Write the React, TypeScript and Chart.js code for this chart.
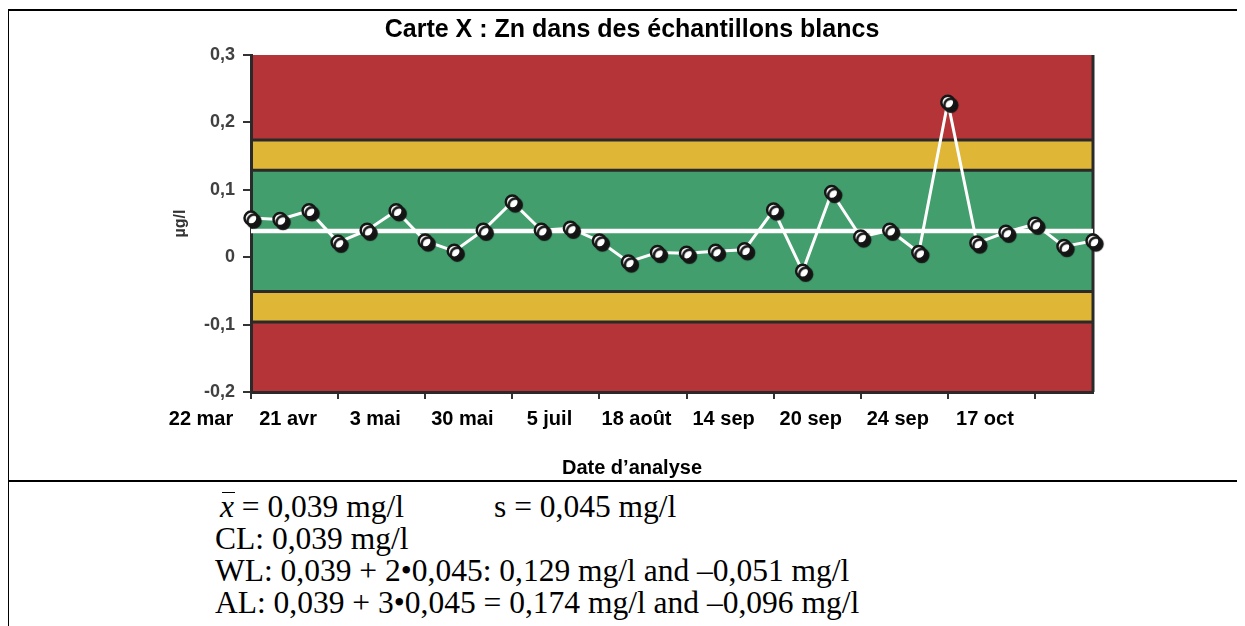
import React, { useEffect, useRef } from 'react';
import { Chart, registerables } from 'chart.js';

Chart.register(...registerables);

// ---------- data ----------
const TITLE = 'Carte X : Zn dans des échantillons blancs';
const X_TITLE = 'Date d’analyse';
const Y_TITLE = 'µg/l';

const dateLabels = ['22 mar', '21 avr', '3 mai', '30 mai', '5 juil', '18 août', '14 sep', '20 sep', '24 sep', '17 oct'];
const labelEvery = 3; // one date label every 3 analyses

const znValues = [
  0.058, 0.056, 0.069, 0.022, 0.040, 0.069, 0.024, 0.009, 0.040, 0.082,
  0.040, 0.043, 0.024, -0.007, 0.007, 0.006, 0.009, 0.011, 0.070, -0.021,
  0.096, 0.030, 0.040, 0.007, 0.230, 0.021, 0.037, 0.049, 0.016, 0.024,
];

const CL = 0.039;
const WL = [0.129, -0.051];
const AL = [0.174, -0.096];

const yMin = -0.2;
const yMax = 0.3;
const yStep = 0.1;

// ---------- style ----------
const SANS = '"Liberation Sans", Arial, sans-serif';
const SERIF = '"Liberation Serif", "Times New Roman", serif';
const RED = '#b43437';
const YELLOW = '#dfb636';
const GREEN = '#429e6d';
const DARK = '#2a2a2a';

const bandsPlugin = {
  id: 'controlBands',
  beforeDraw(chart: any) {
    const { ctx, chartArea: a, scales } = chart;
    const y = scales.y;
    const py = (v: number) => y.getPixelForValue(v);
    const band = (from: number, to: number, color: string) => {
      const t = py(to);
      const b = py(from);
      ctx.fillStyle = color;
      ctx.fillRect(a.left, t, a.right - a.left, b - t);
    };
    ctx.save();
    band(AL[0], yMax, RED);
    band(WL[0], AL[0], YELLOW);
    band(WL[1], WL[0], GREEN);
    band(AL[1], WL[1], YELLOW);
    band(yMin, AL[1], RED);
    ctx.strokeStyle = DARK;
    ctx.lineWidth = 3;
    [AL[0], WL[0], WL[1], AL[1]].forEach((v) => {
      const p = py(v);
      ctx.beginPath();
      ctx.moveTo(a.left, p);
      ctx.lineTo(a.right, p);
      ctx.stroke();
    });
    ctx.beginPath();
    ctx.moveTo(a.right, a.top);
    ctx.lineTo(a.right, a.bottom);
    ctx.stroke();
    ctx.restore();
  },
};

const shadowPlugin = {
  id: 'markerShadow',
  beforeDatasetDraw(chart: any, args: any) {
    if (args.index !== 0) return;
    const ctx = chart.ctx;
    ctx.save();
    ctx.shadowColor = '#141414';
    ctx.shadowOffsetX = 3;
    ctx.shadowOffsetY = 3;
    ctx.shadowBlur = 1;
  },
  afterDatasetDraw(chart: any, args: any) {
    if (args.index !== 0) return;
    chart.ctx.restore();
  },
};

const fmtY = (v: any) => {
  const n = Math.round(Number(v) * 10) / 10;
  if (n === 0) return '0';
  return n.toFixed(1).replace('.', ',');
};

function ControlChart() {
  const ref = useRef<HTMLCanvasElement | null>(null);

  useEffect(() => {
    if (!ref.current) return;
    const pts = znValues.map((v, i) => ({ x: i, y: v }));
    const chart = new Chart(ref.current, {
      type: 'line',
      data: {
        datasets: [
          {
            label: 'points',
            data: pts,
            showLine: false,
            pointRadius: 6.5,
            pointBackgroundColor: '#ffffff',
            pointBorderColor: '#161616',
            pointBorderWidth: 2.5,
            clip: false,
          } as any,
          {
            label: 'ligne',
            data: pts,
            borderColor: '#ffffff',
            borderWidth: 3,
            pointRadius: 0,
            fill: false,
          },
          {
            label: 'CL',
            data: [{ x: 0, y: CL }, { x: znValues.length - 1, y: CL }],
            borderColor: '#ffffff',
            borderWidth: 4.5,
            pointRadius: 0,
            fill: false,
          },
        ],
      },
      options: {
        animation: false,
        responsive: false,
        devicePixelRatio: 1,
        events: [],
        layout: { padding: { left: 162, right: 152, top: 0, bottom: 0 } },
        plugins: {
          legend: { display: false },
          tooltip: { enabled: false },
          title: {
            display: true,
            text: TITLE,
            color: '#000',
            font: { family: SANS, size: 25, weight: 'bold' },
            padding: { top: 4, bottom: 10 },
          },
          subtitle: {
            display: true,
            position: 'bottom',
            text: X_TITLE,
            color: '#000',
            font: { family: SANS, size: 20, weight: 'bold' },
            padding: { top: 0, bottom: 0 },
          },
        },
        scales: {
          x: {
            type: 'linear',
            min: 0,
            max: znValues.length - 1,
            afterBuildTicks: (s: any) => {
              s.ticks = dateLabels.map((_, i) => ({ value: i * labelEvery }));
            },
            afterFit: (s: any) => {
              s.height = 64;
            },
            ticks: {
              autoSkip: false,
              maxRotation: 0,
              minRotation: 0,
              labelOffset: -50,
              padding: 8,
              color: '#000',
              font: { family: SANS, size: 20, weight: 'bold' },
              callback: (_v: any, i: number) => dateLabels[i],
            },
            grid: { drawOnChartArea: false, drawTicks: true, tickLength: 7, color: '#333', lineWidth: 2 },
            border: { display: true, color: DARK, width: 3 },
          },
          y: {
            type: 'linear',
            min: yMin,
            max: yMax,
            afterFit: (s: any) => {
              s.width = 80;
            },
            ticks: {
              stepSize: yStep,
              padding: 8,
              color: '#404040',
              font: { family: SANS, size: 18, weight: 'bold' },
              callback: fmtY,
            },
            grid: { drawOnChartArea: false, drawTicks: true, tickLength: 8, color: '#333', lineWidth: 2 },
            border: { display: true, color: DARK, width: 3 },
            title: {
              display: true,
              text: Y_TITLE,
              color: '#333',
              font: { family: SANS, size: 16, weight: 'bold' },
              padding: 0,
            },
          },
        },
      } as any,
      plugins: [bandsPlugin, shadowPlugin],
    });
    return () => chart.destroy();
  }, []);

  return (
    <canvas
      ref={ref}
      width={1236}
      height={469}
      style={{ position: 'absolute', left: 1, top: 3, width: 1236, height: 469 }}
    />
  );
}

const serif: React.CSSProperties = {
  position: 'absolute',
  fontFamily: SERIF,
  fontSize: 31.5,
  lineHeight: '31px',
  whiteSpace: 'pre',
  color: '#000',
};

export default function App() {
  return (
    <div style={{ position: 'relative', width: 1237, height: 618, overflow: 'hidden', background: '#fff' }}>
      <ControlChart />
      <div style={{ position: 'absolute', left: -1, top: 1, width: 1238, height: 2, background: '#000' }} />
      <div style={{ position: 'absolute', left: -1, top: 1, width: 2, height: 617, background: '#000' }} />
      <div style={{ position: 'absolute', left: -1, top: 472, width: 1238, height: 2, background: '#000' }} />
      <div style={{ ...serif, left: 212, top: 483 }}>
        <span style={{ position: 'relative', fontStyle: 'italic' }}>
          x
          <span style={{ position: 'absolute', left: 2, right: -1, top: 3, borderTop: '1.5px solid #000' }} />
        </span>
        {' = 0,039 mg/l'}
      </div>
      <div style={{ ...serif, left: 486, top: 483 }}>s = 0,045 mg/l</div>
      <div style={{ ...serif, left: 207, top: 515 }}>CL: 0,039 mg/l</div>
      <div style={{ ...serif, left: 207, top: 547 }}>WL: 0,039 + 2•0,045: 0,129 mg/l and –0,051 mg/l</div>
      <div style={{ ...serif, left: 207, top: 579 }}>AL: 0,039 + 3•0,045 = 0,174 mg/l and –0,096 mg/l</div>
    </div>
  );
}
